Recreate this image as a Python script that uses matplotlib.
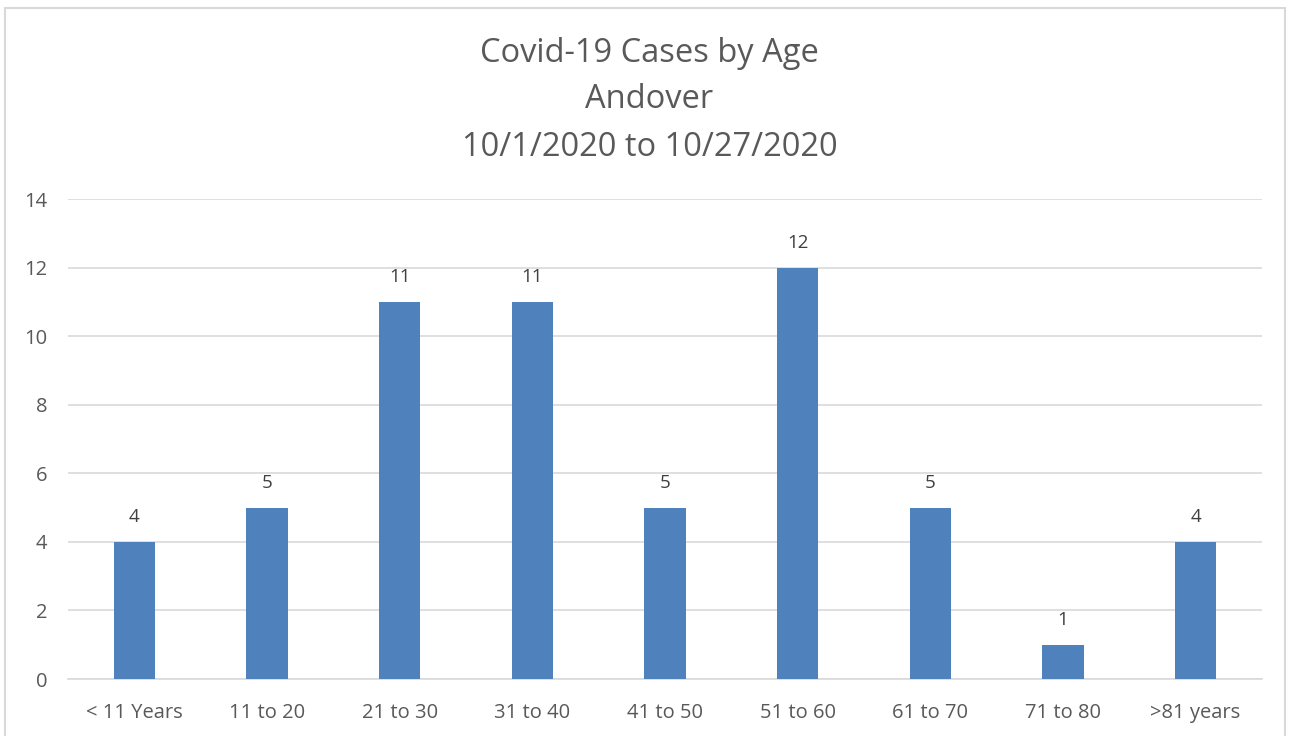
import matplotlib.pyplot as plt
from matplotlib.patches import Rectangle

plt.rcParams['font.family'] = ['Open Sans', 'DejaVu Sans']

age_groups = ["< 11 Years", "11 to 20", "21 to 30", "31 to 40", "41 to 50",
              "51 to 60", "61 to 70", "71 to 80", ">81 years"]
cases = [4, 5, 11, 11, 5, 12, 5, 1, 4]

fig = plt.figure(figsize=(12.91, 7.36), dpi=100)
ax = fig.add_axes([0.0527, 0.0774, 0.9248, 0.6522])

x = range(len(age_groups))
bars = ax.bar(x, cases, width=0.31, color="#4F81BD", zorder=3)
for b, v in zip(bars, cases):
    ax.text(b.get_x() + b.get_width() / 2, v + 0.45, str(v),
            ha="center", va="bottom", fontsize=13.5, color="#404040")

ax.set_xlim(-0.5, len(age_groups) - 0.5)
ax.set_ylim(0, 14)
ax.set_yticks(range(0, 15, 2))
ax.set_xticks(list(x))
ax.set_xticklabels(age_groups)
ax.grid(axis="y", color="#d9d9d9", linewidth=1.2, zorder=0)
for s in ["top", "right", "left"]:
    ax.spines[s].set_visible(False)
ax.spines["bottom"].set_color("#d9d9d9")
ax.spines["bottom"].set_linewidth(1.2)
ax.tick_params(axis="both", length=0, labelsize=14.5, colors="#595959")
ax.tick_params(axis="x", pad=17)
ax.tick_params(axis="y", pad=15)

fig.text(0.503, 1 - 100 / 736, "Covid-19 Cases by Age\nAndover\n10/1/2020 to 10/27/2020",
         ha="center", va="center", fontsize=23.5, color="#595959", linespacing=1.56)

fig.patches.append(Rectangle((5 / 1291, -0.01), 1280 / 1291, 1 - 8 / 736 + 0.01,
                             transform=fig.transFigure, fill=False,
                             edgecolor="#d9d9d9", linewidth=1.5))

fig.savefig("out.png", dpi=100)
